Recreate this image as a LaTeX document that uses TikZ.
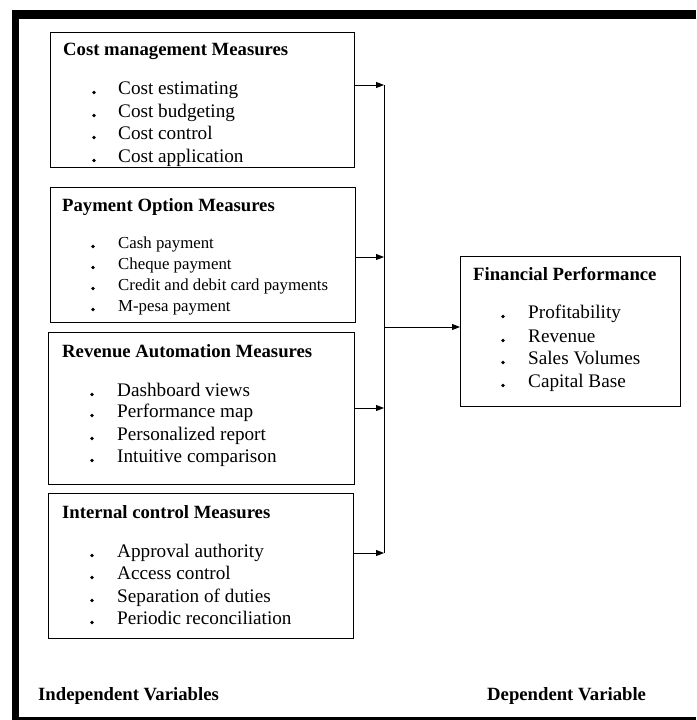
\documentclass[tikz,border=0pt]{standalone}
\usepackage{fontspec}
\setmainfont{Liberation Serif}
\usetikzlibrary{arrows.meta}
\begin{document}
\begin{tikzpicture}[x=1pt,y=-1pt,
  box/.style={draw=black,line width=1.2pt,inner sep=0pt,anchor=north west},
  ttl/.style={anchor=base west,inner sep=0pt,font=\fontsize{18.7}{20}\selectfont\bfseries},
  itm/.style={anchor=base west,inner sep=0pt,font=\fontsize{19.2}{20}\selectfont},
  itms/.style={anchor=base west,inner sep=0pt,font=\fontsize{16.8}{18}\selectfont},
  dot/.style={circle,fill=black,inner sep=0pt,minimum size=3.6pt},
  conn/.style={line width=0.9pt},
  arr/.style={line width=0.9pt,-{Triangle[length=8pt,width=6pt]}}]
\useasboundingbox (0,0) rectangle (696,720);
% outer frame
\fill[black] (12,10) rectangle (696,19);
\fill[black] (12,10) rectangle (19,720);
\fill[black] (12,716.5) rectangle (696,720);
% boxes
\node[box,minimum width=304pt,minimum height=135pt] (b1) at (50,32) {};
\node[box,minimum width=305pt,minimum height=135pt] (b2) at (50,187) {};
\node[box,minimum width=306pt,minimum height=152pt] (b3) at (48,332) {};
\node[box,minimum width=305pt,minimum height=145pt] (b4) at (48,493) {};
\node[box,minimum width=220pt,minimum height=150pt] (fp) at (460,256) {};
% box 1
\node[ttl] (t1) at (63,55) {Cost management Measures};
\foreach \y/\t [count=\i] in {94/Cost estimating,117/Cost budgeting,139/Cost control,162/Cost application}{
  \node[dot] (d1\i) at (94,\y-1.5) {};
  \node[itm] (i1\i) at (118,\y) {\t};}
% box 2
\node[ttl] (t2) at (62,211) {Payment Option Measures};
\foreach \y/\t [count=\i] in {248/Cash payment,269/Cheque payment,290/Credit and debit card payments,311/M-pesa payment}{
  \node[dot] (d2\i) at (93,\y-1.5) {};
  \node[itms] (i2\i) at (118,\y) {\t};}
% box 3
\node[ttl] (t3) at (62,357) {Revenue Automation Measures};
\foreach \y/\t [count=\i] in {396/Dashboard views,417/Performance map,440/Personalized report,462/Intuitive comparison}{
  \node[dot] (d3\i) at (92,\y-1.5) {};
  \node[itm] (i3\i) at (117,\y) {\t};}
% box 4
\node[ttl] (t4) at (62,518) {Internal control Measures};
\foreach \y/\t [count=\i] in {557/Approval authority,579/Access control,602/Separation of duties,624/Periodic reconciliation}{
  \node[dot] (d4\i) at (92,\y-1.5) {};
  \node[itm] (i4\i) at (117,\y) {\t};}
% financial performance
\node[ttl] (t5) at (473,280) {Financial Performance};
\foreach \y/\t [count=\i] in {318/Profitability,342/Revenue,364/Sales Volumes,387/Capital Base}{
  \node[dot] (d5\i) at (503,\y-1.5) {};
  \node[itm] (i5\i) at (528,\y) {\t};}
% bottom labels
\node[ttl] (lind) at (38,700) {Independent Variables};
\node[ttl] (ldep) at (487,700) {Dependent Variable};
% connectors
\coordinate (j1) at (384,85);
\coordinate (j2) at (384,257);
\coordinate (j3) at (384,408);
\coordinate (j4) at (384,553);
\coordinate (jm) at (384,327);
\draw[conn] (j1) -- (j4);
\draw[arr] (b1.east |- j1) -- (j1);
\draw[arr] (b2.east |- j2) -- (j2);
\draw[arr] (b3.east |- j3) -- (j3);
\draw[arr] (b4.east |- j4) -- (j4);
\draw[arr] (jm) -- (fp.west |- jm);
\end{tikzpicture}
\end{document}
